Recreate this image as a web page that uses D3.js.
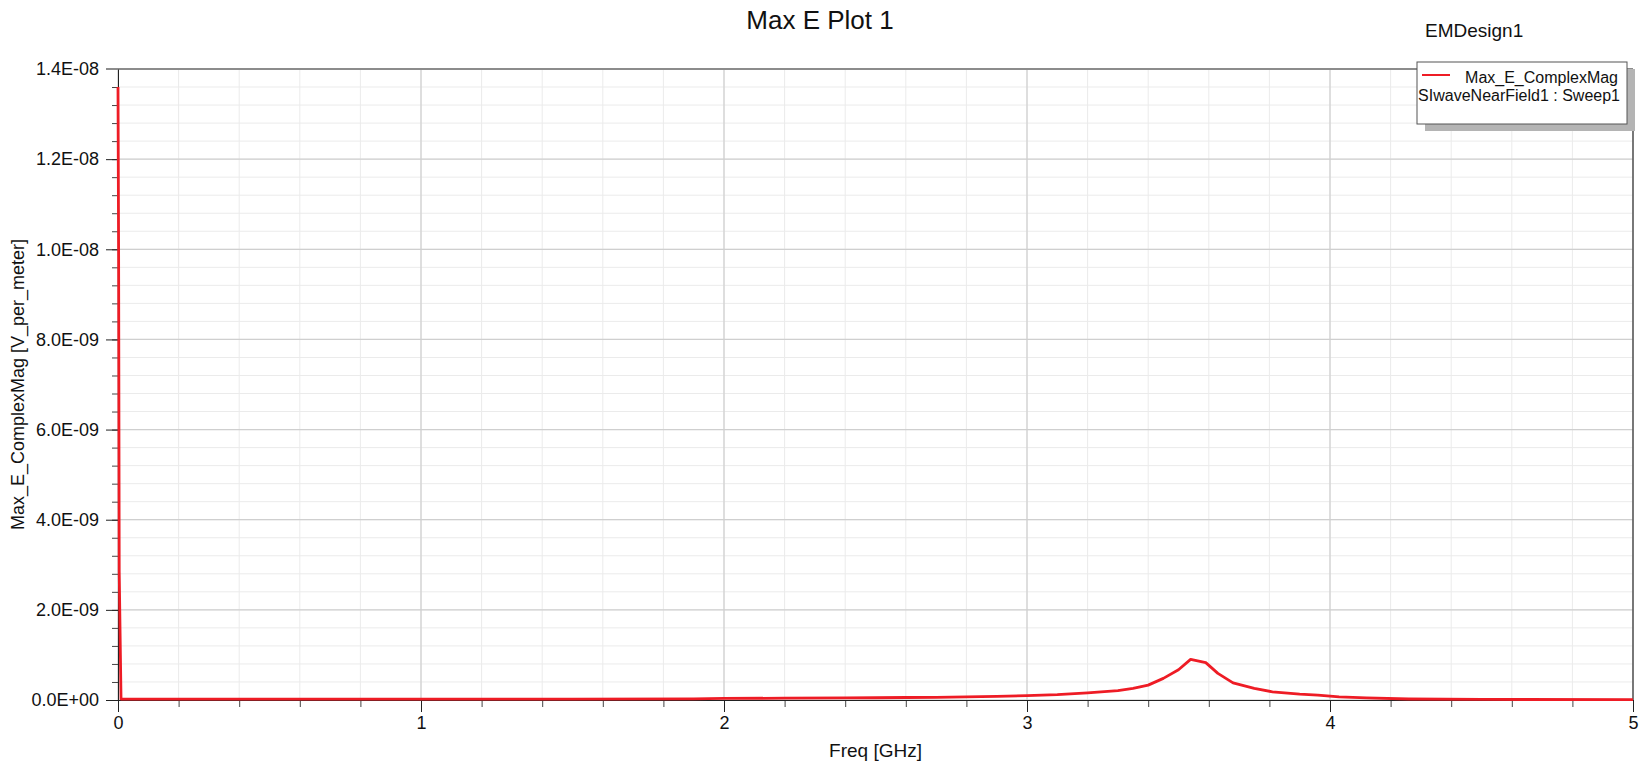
<!DOCTYPE html>
<html>
<head>
<meta charset="utf-8">
<script src="https://cdn.jsdelivr.net/npm/d3@7"></script>
<style>
  html, body { margin: 0; padding: 0; background: #fff; }
  svg { display: block; font-family: "Liberation Sans", Arial, sans-serif; }
</style>
</head>
<body>
<svg id="chart" width="1640" height="762"></svg>
<script>
// sweep values (GHz, V/m)
const freqGHz = [0, 0.002, 0.004, 0.01, 0.5, 1.0, 1.5, 1.9, 2.0, 2.2, 2.4, 2.5, 2.6, 2.7, 2.8, 2.9, 3.0, 3.1, 3.2, 3.3,
                 3.35, 3.4, 3.45, 3.5, 3.54, 3.59, 3.63, 3.68, 3.75, 3.81, 3.9, 3.96, 4.03, 4.12, 4.26, 4.5, 5.0];
const maxE = [1.36e-8, 1.0e-8, 2.85e-9, 2e-11, 2e-11, 2e-11, 2e-11, 2.5e-11, 3.5e-11, 4e-11, 4.5e-11, 5e-11, 5.5e-11, 6e-11,
              7e-11, 8e-11, 9.5e-11, 1.2e-10, 1.6e-10, 2.1e-10, 2.6e-10, 3.3e-10, 4.8e-10, 6.7e-10, 9.0e-10, 8.3e-10,
              5.9e-10, 3.8e-10, 2.6e-10, 1.8e-10, 1.3e-10, 1.1e-10, 7e-11, 4.5e-11, 2.2e-11, 1.2e-11, 1e-11];

const xTicks = [0, 1, 2, 3, 4, 5];
const yTicks = [0, 2e-9, 4e-9, 6e-9, 8e-9, 1e-8, 1.2e-8, 1.4e-8];
const xMinor = d3.range(0, 5.0001, 0.2);
const yMinor = d3.range(0, 1.40001e-8, 0.4e-9);

const pLeft = 118, pRight = 1633, pTop = 69, pBottom = 700;
const svg = d3.select("#chart");

const x = d3.scaleLinear().domain([0, 5]).range([pLeft, pRight]);
const y = d3.scaleLinear().domain([0, 1.4e-8]).range([pBottom, pTop]);

// 1.4E-08 style labels
function fmtE(v) {
  if (v === 0) return "0.0E+00";
  const [m, e] = v.toExponential(1).split("e");
  const n = +e;
  return m + "E" + (n < 0 ? "-" : "+") + String(Math.abs(n)).padStart(2, "0");
}

// grid
const grid = svg.append("g");
grid.selectAll(".vmin").data(xMinor).join("line")
  .attr("x1", d => x(d)).attr("x2", d => x(d)).attr("y1", pTop).attr("y2", pBottom)
  .attr("stroke", "#ebebeb").attr("stroke-width", 1);
grid.selectAll(".hmin").data(yMinor).join("line")
  .attr("y1", d => y(d)).attr("y2", d => y(d)).attr("x1", pLeft).attr("x2", pRight)
  .attr("stroke", "#ebebeb").attr("stroke-width", 1);
grid.selectAll(".vmaj").data(xTicks).join("line")
  .attr("x1", d => x(d)).attr("x2", d => x(d)).attr("y1", pTop).attr("y2", pBottom)
  .attr("stroke", "#cfcfcf").attr("stroke-width", 1.2);
grid.selectAll(".hmaj").data(yTicks).join("line")
  .attr("y1", d => y(d)).attr("y2", d => y(d)).attr("x1", pLeft).attr("x2", pRight)
  .attr("stroke", "#cfcfcf").attr("stroke-width", 1.2);

// top frame (gray) and right frame (dark)
svg.append("line").attr("x1", 106).attr("x2", pRight).attr("y1", pTop).attr("y2", pTop)
  .attr("stroke", "#8c8c8c").attr("stroke-width", 2);
svg.append("line").attr("x1", pRight).attr("x2", pRight).attr("y1", pTop).attr("y2", pBottom)
  .attr("stroke", "#333").attr("stroke-width", 1.2);

// minor ticks
svg.append("g").attr("transform", `translate(0,${pBottom})`)
  .call(d3.axisBottom(x).tickValues(xMinor).tickSize(7).tickSizeOuter(0).tickFormat(""))
  .call(g => g.select(".domain").remove())
  .call(g => g.selectAll("line").attr("stroke", "#444"));
svg.append("g").attr("transform", `translate(${pLeft},0)`)
  .call(d3.axisLeft(y).tickValues(yMinor).tickSize(6).tickSizeOuter(0).tickFormat(""))
  .call(g => g.select(".domain").remove())
  .call(g => g.selectAll("line").attr("stroke", "#444"));

// major axes
svg.append("g").attr("transform", `translate(0,${pBottom})`)
  .call(d3.axisBottom(x).tickValues(xTicks).tickSize(12).tickSizeOuter(0).tickPadding(4).tickFormat(d3.format("d")))
  .call(g => g.select(".domain").attr("stroke", "#222"))
  .call(g => g.selectAll("line").attr("stroke", "#222"))
  .call(g => g.selectAll("text").attr("font-size", 18).attr("fill", "#111")
    .attr("font-family", "Liberation Sans, Arial, sans-serif"));
svg.append("g").attr("transform", `translate(${pLeft},0)`)
  .call(d3.axisLeft(y).tickValues(yTicks).tickSize(12).tickSizeOuter(0).tickPadding(7).tickFormat(fmtE))
  .call(g => g.select(".domain").attr("stroke", "#222"))
  .call(g => g.selectAll("line").attr("stroke", d => d === 1.4e-8 ? "#8c8c8c" : "#222"))
  .call(g => g.selectAll("text").attr("font-size", 18).attr("fill", "#111")
    .attr("font-family", "Liberation Sans, Arial, sans-serif"));

// data curve
const line = d3.line().x((d, i) => x(freqGHz[i])).y(d => y(d));
svg.append("path").datum(maxE)
  .attr("fill", "none").attr("stroke", "#ee1c25").attr("stroke-width", 2.8)
  .attr("stroke-linejoin", "round").attr("d", line);

// titles
svg.append("text").attr("x", 820).attr("y", 29).attr("text-anchor", "middle")
  .attr("font-size", 26).attr("fill", "#111").text("Max E Plot 1");
svg.append("text").attr("x", 1425).attr("y", 37)
  .attr("font-size", 19).attr("fill", "#111").text("EMDesign1");
svg.append("text").attr("x", (pLeft + pRight) / 2).attr("y", 757).attr("text-anchor", "middle")
  .attr("font-size", 19).attr("fill", "#111").text("Freq [GHz]");
svg.append("text").attr("transform", `translate(24,${(pTop + pBottom) / 2}) rotate(-90)`)
  .attr("text-anchor", "middle").attr("font-size", 18).attr("fill", "#111")
  .text("Max_E_ComplexMag [V_per_meter]");

// legend with drop shadow
const lg = svg.append("g").attr("transform", "translate(1417,62)");
lg.append("rect").attr("x", 8).attr("y", 7).attr("width", 210).attr("height", 62).attr("fill", "#b4b4b4");
lg.append("rect").attr("width", 210).attr("height", 62).attr("fill", "#fff")
  .attr("stroke", "#555").attr("stroke-width", 1);
lg.append("line").attr("x1", 5).attr("x2", 33).attr("y1", 13).attr("y2", 13)
  .attr("stroke", "#ee1c25").attr("stroke-width", 2);
lg.append("text").attr("x", 201).attr("y", 21).attr("text-anchor", "end")
  .attr("font-size", 16).attr("fill", "#111").text("Max_E_ComplexMag");
lg.append("text").attr("x", 203).attr("y", 39).attr("text-anchor", "end")
  .attr("font-size", 16).attr("fill", "#111").text("SIwaveNearField1 : Sweep1");
</script>
</body>
</html>
